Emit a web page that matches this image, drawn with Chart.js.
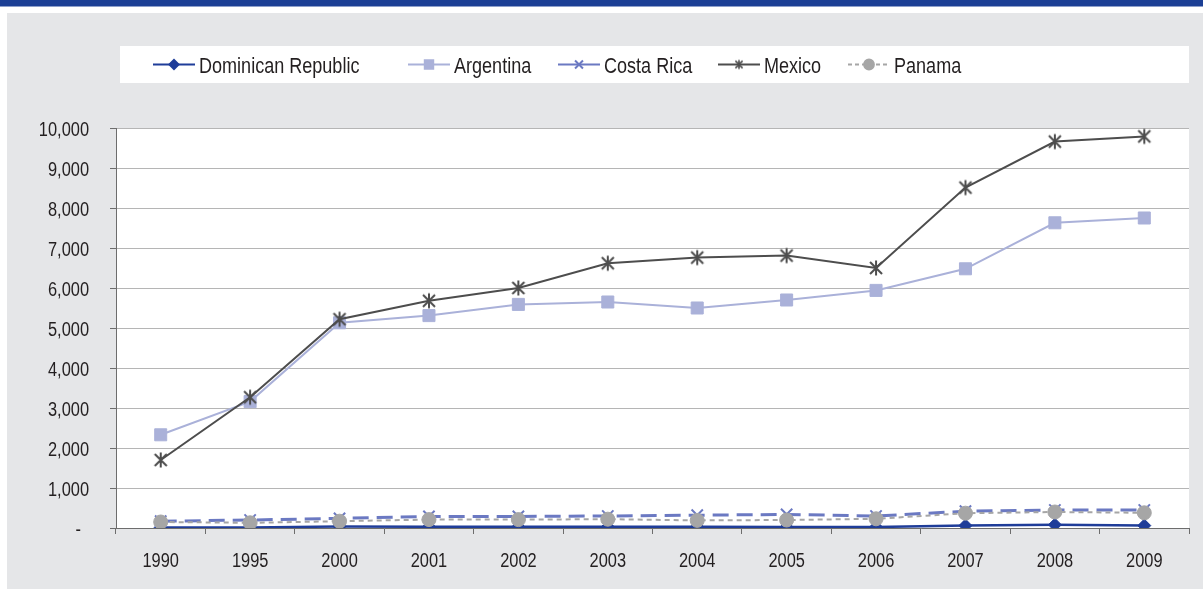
<!DOCTYPE html>
<html>
<head>
<meta charset="utf-8">
<script src="https://cdn.jsdelivr.net/npm/chart.js@4.4.1/dist/chart.umd.min.js"></script>
<style>
  html, body { margin: 0; padding: 0; background: #fff; }
  #wrap { position: relative; width: 1203px; height: 589px; overflow: hidden; }
  #topbar { position: absolute; left: 0; top: 0; width: 1203px; height: 6px; background: #1b3f95; border-bottom: 1px solid #8d9fcb; }
  #panel { position: absolute; left: 7px; top: 13px; width: 1196px; height: 576px; background: #e5e6e8; }
  #chart { position: absolute; left: 0; top: 0; }
</style>
</head>
<body>
<div id="wrap">
  <div id="topbar"></div>
  <div id="panel"></div>
  <canvas id="chart" width="1203" height="589"></canvas>
</div>
<script>
// years on the x axis
const years = ['1990', '1995', '2000', '2001', '2002', '2003', '2004', '2005', '2006', '2007', '2008', '2009'];

// series
const dominicanRepublic = [10, 10, 40, 30, 30, 30, 30, 25, 25, 60, 80, 60];
const argentina = [2330, 3160, 5130, 5310, 5590, 5650, 5500, 5700, 5940, 6480, 7630, 7750];
const costaRica = [170, 200, 240, 290, 290, 300, 320, 340, 300, 420, 450, 450];
const mexico = [1700, 3270, 5220, 5680, 6000, 6620, 6760, 6810, 6500, 8510, 9660, 9790];
const panama = [150, 130, 170, 210, 210, 220, 190, 200, 230, 370, 400, 380];

// y axis ticks
const yTicks = [0, 1000, 2000, 3000, 4000, 5000, 6000, 7000, 8000, 9000, 10000];

// narrow sans: Liberation Sans squeezed horizontally
const FONT = '"Liberation Sans", Arial, sans-serif';
const SQUEEZE = 0.82;
const TEXT = '#231f20';

function narrowText(ctx, text, x, y, size, align) {
  ctx.save();
  ctx.translate(x, y);
  ctx.scale(SQUEEZE, 1);
  ctx.font = size + 'px ' + FONT;
  ctx.fillStyle = TEXT;
  ctx.textAlign = align;
  ctx.textBaseline = 'alphabetic';
  ctx.fillText(text, 0, 0);
  ctx.restore();
}

function yLabel(v) {
  return v === 0 ? '-' : v.toLocaleString('en-US');
}

// asterisk marker (X plus a vertical stroke)
function makeStar(size, color, lw) {
  const c = document.createElement('canvas');
  c.width = size; c.height = size;
  const g = c.getContext('2d');
  const m = size / 2, r = size / 2 - 1.5;
  g.strokeStyle = color;
  g.lineWidth = lw;
  g.beginPath();
  g.moveTo(m, m - r); g.lineTo(m, m + r);
  g.moveTo(m - r * 0.8, m - r * 0.8); g.lineTo(m + r * 0.8, m + r * 0.8);
  g.moveTo(m + r * 0.8, m - r * 0.8); g.lineTo(m - r * 0.8, m + r * 0.8);
  g.stroke();
  return c;
}
const starBig = makeStar(18, '#4d4d4d', 2);
const starSmall = makeStar(12, '#4d4d4d', 1.6);

// legend entries: where each one starts on the row
const legendStart = [153, 408, 558, 718, 848];

const backdrop = {
  id: 'backdrop',
  beforeDraw(chart) {
    const ctx = chart.ctx;
    const a = chart.chartArea;
    ctx.save();
    ctx.fillStyle = '#ffffff';
    ctx.fillRect(a.left, a.top, a.right - a.left, a.bottom - a.top);
    // legend box
    ctx.fillRect(120, 46, 1069, 37);
    const y = 64.5;
    chart.data.datasets.forEach(function(ds, i) {
      const x0 = legendStart[i];
      ctx.save();
      ctx.strokeStyle = ds.borderColor;
      ctx.lineWidth = 2;
      ctx.setLineDash(ds.legendDash || []);
      ctx.beginPath();
      ctx.moveTo(x0, y);
      ctx.lineTo(x0 + 42, y);
      ctx.stroke();
      ctx.setLineDash([]);
      ctx.fillStyle = ds.pointBackgroundColor;
      ctx.strokeStyle = ds.pointBorderColor;
      Chart.helpers.drawPoint(ctx, {
        pointStyle: ds.legendStyle || ds.pointStyle,
        radius: ds.pointRadius * 0.7,
        rotation: 0,
        borderWidth: ds.pointBorderWidth
      }, x0 + 21, y);
      ctx.restore();
      narrowText(ctx, ds.label, x0 + 46, 73, 22, 'left');
    });
    ctx.restore();
  },
  afterDraw(chart) {
    const ctx = chart.ctx;
    const xs = chart.scales.x;
    const ys = chart.scales.y;
    years.forEach(function(lab, i) {
      narrowText(ctx, lab, xs.getPixelForValue(i), 567, 20, 'center');
    });
    yTicks.forEach(function(v) {
      const py = ys.getPixelForValue(v);
      narrowText(ctx, yLabel(v), v === 0 ? 81 : 89, py + 7.5, 20, 'right');
    });
  }
};

const ctx = document.getElementById('chart').getContext('2d');
const chart = new Chart(ctx, {
  type: 'line',
  data: {
    labels: years,
    datasets: [{
      label: 'Dominican Republic',
      data: dominicanRepublic,
      borderColor: '#1f3d99',
      borderWidth: 2.5,
      pointStyle: 'rectRot',
      pointRadius: 6.5,
      pointBackgroundColor: '#1f3d99',
      pointBorderColor: '#1f3d99',
      pointBorderWidth: 1,
      order: 5
    }, {
      label: 'Argentina',
      data: argentina,
      borderColor: '#aab1d9',
      borderWidth: 2,
      pointStyle: 'rect',
      pointRadius: 8.5,
      pointBackgroundColor: '#aab1d9',
      pointBorderColor: '#aab1d9',
      pointBorderWidth: 1,
      order: 4
    }, {
      label: 'Costa Rica',
      data: costaRica,
      borderColor: '#6b79c2',
      borderWidth: 3,
      borderDash: [16, 8],
      legendDash: [],
      pointStyle: 'crossRot',
      pointRadius: 8,
      pointBackgroundColor: '#6b79c2',
      pointBorderColor: '#6b79c2',
      pointBorderWidth: 2,
      order: 3
    }, {
      label: 'Mexico',
      data: mexico,
      borderColor: '#4d4d4d',
      borderWidth: 2,
      pointStyle: starBig,
      legendStyle: starSmall,
      pointRadius: 8,
      pointBackgroundColor: '#4d4d4d',
      pointBorderColor: '#4d4d4d',
      pointBorderWidth: 2,
      order: 2
    }, {
      label: 'Panama',
      data: panama,
      borderColor: '#a6a6a6',
      borderWidth: 2,
      borderDash: [5, 4],
      legendDash: [4, 3],
      pointStyle: 'circle',
      pointRadius: 7,
      pointBackgroundColor: '#a6a6a6',
      pointBorderColor: '#a6a6a6',
      pointBorderWidth: 1,
      order: 1
    }]
  },
  options: {
    responsive: false,
    animation: false,
    devicePixelRatio: 1,
    layout: { padding: { top: 128, right: 14, left: 0, bottom: 0 } },
    plugins: {
      legend: { display: false },
      tooltip: { enabled: false }
    },
    elements: { line: { tension: 0 } },
    scales: {
      x: {
        offset: true,
        grid: {
          offset: true,
          drawOnChartArea: false,
          tickLength: 6,
          tickColor: '#6d6d6d'
        },
        border: { color: '#6d6d6d', width: 1 },
        ticks: { display: false },
        afterFit(scale) { scale.height = 61; }
      },
      y: {
        min: 0,
        max: 10000,
        afterBuildTicks(scale) {
          scale.ticks = yTicks.map(function(v) { return { value: v }; });
        },
        grid: {
          color: '#b5b5b5',
          tickLength: 6,
          tickColor: '#6d6d6d'
        },
        border: { color: '#6d6d6d', width: 1 },
        ticks: { display: false },
        afterFit(scale) { scale.width = 116; }
      }
    }
  },
  plugins: [backdrop]
});
</script>
</body>
</html>
